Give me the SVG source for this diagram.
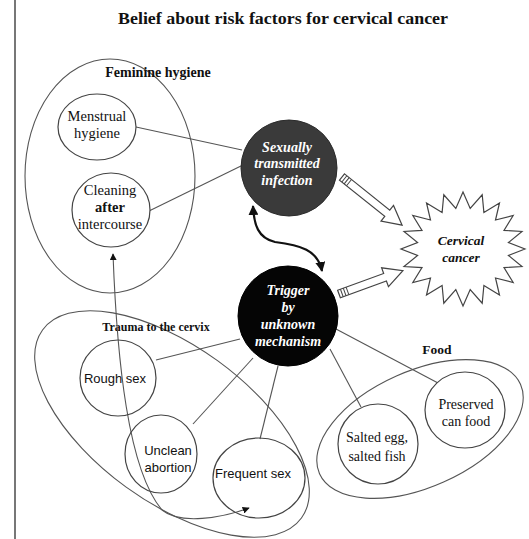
<svg xmlns="http://www.w3.org/2000/svg" width="529" height="539" viewBox="0 0 529 539">
<defs>
<style>
.bg{fill:#ffffff}
.grp{fill:none;stroke:#555;stroke-width:1.1}
.nd{fill:#ffffff;stroke:#444;stroke-width:1.2}
.ln{stroke:#555;stroke-width:1.1;fill:none}
.dark{fill:#3a3a3a;stroke:#2a2a2a;stroke-width:1}
.blk{fill:#050505;stroke:#000;stroke-width:1}
.ser{font-family:"Liberation Serif","Times New Roman",serif;fill:#111;text-anchor:middle}
.sans{font-family:"Liberation Sans",Arial,sans-serif;fill:#111;text-anchor:middle}
.hd{font-family:"Liberation Serif","Times New Roman",serif;font-weight:bold;fill:#111;text-anchor:middle}
.wi{font-family:"Liberation Serif","Times New Roman",serif;font-weight:bold;font-style:italic;fill:#ffffff;text-anchor:middle;font-size:14px}
.hollow{fill:#ffffff;stroke:#444;stroke-width:1.2}
</style>
<marker id="ah" viewBox="0 0 10 10" refX="9" refY="5" markerWidth="7" markerHeight="7" orient="auto-start-reverse" markerUnits="userSpaceOnUse">
<path d="M0,0 L10,5 L0,10 z" fill="#111"/>
</marker>
<marker id="ahb" viewBox="0 0 10 10" refX="9" refY="5" markerWidth="10" markerHeight="10" orient="auto-start-reverse" markerUnits="userSpaceOnUse">
<path d="M0,0 L10,5 L0,10 z" fill="#111"/>
</marker>
</defs>
<rect class="bg" x="0" y="0" width="529" height="539"/>
<line x1="15" y1="0" x2="15" y2="539" stroke="#777" stroke-width="2"/>
<text class="hd" x="283" y="24" font-size="17" textLength="330" lengthAdjust="spacingAndGlyphs">Belief about risk factors for cervical cancer</text>

<g id="group-feminine-hygiene">
<ellipse class="grp" cx="110" cy="176" rx="85" ry="117"/>
<text class="hd" x="158" y="77" font-size="14">Feminine hygiene</text>
</g>
<g id="group-trauma">
<ellipse class="grp" cx="172" cy="424" rx="160" ry="78" transform="rotate(36 172 424)"/>
<text class="hd" x="156" y="331" font-size="12">Trauma to the cervix</text>
</g>
<g id="group-food">
<ellipse class="grp" cx="420" cy="429" rx="110" ry="58" transform="rotate(-24 420 429)"/>
<text class="hd" x="437" y="354" font-size="13.5">Food</text>
</g>

<g id="connectors">
<line class="ln" x1="136" y1="127" x2="242" y2="150"/>
<line class="ln" x1="149" y1="211" x2="243" y2="165"/>
<line class="ln" x1="156" y1="360" x2="240" y2="339"/>
<line class="ln" x1="193" y1="424" x2="253" y2="358"/>
<line class="ln" x1="260" y1="439" x2="278" y2="366"/>
<line class="ln" x1="330" y1="349" x2="361" y2="407"/>
<line class="ln" x1="336" y1="329" x2="438" y2="383"/>
<path d="M253,206 C254,225 258,238 275,242 C300,245 318,250 322,271" fill="none" stroke="#111" stroke-width="2.2" marker-start="url(#ahb)" marker-end="url(#ahb)"/>
<path d="M113,254 C117,360 128,470 162,510 C180,525 222,518 249,508" class="ln" marker-start="url(#ah)" marker-end="url(#ah)"/>
<g transform="translate(342 177) rotate(38.7)">
<path class="hollow" d="M0,-4 L58,-4 L58,-10 L77,0 L58,10 L58,4 L0,4 Z"/>
<path d="M3,-4 V4 M6,-4 V4 M9,-4 V4" stroke="#444" stroke-width="1"/>
</g>
<g transform="translate(339 294) rotate(-20)">
<path class="hollow" d="M0,-4 L49,-4 L49,-10 L68,0 L49,10 L49,4 L0,4 Z"/>
<path d="M3,-4 V4 M6,-4 V4 M9,-4 V4" stroke="#444" stroke-width="1"/>
</g>
</g>

<g id="node-menstrual-hygiene">
<ellipse class="nd" cx="97" cy="127" rx="39" ry="33"/>
<text class="ser" x="97" y="121" font-size="14.5">Menstrual</text>
<text class="ser" x="97" y="138" font-size="14.5">hygiene</text>
</g>
<g id="node-cleaning">
<ellipse class="nd" cx="111" cy="210" rx="39" ry="37"/>
<text class="ser" x="110" y="195" font-size="14.5">Cleaning</text>
<text class="ser" x="110" y="212" font-size="14.5" font-weight="bold">after</text>
<text class="ser" x="110" y="229" font-size="14.5">intercourse</text>
</g>
<g id="node-sti">
<circle class="dark" cx="289" cy="168" r="48"/>
<text class="wi" x="287" y="152">Sexually</text>
<text class="wi" x="287" y="168">transmitted</text>
<text class="wi" x="287" y="185">infection</text>
</g>
<g id="node-trigger">
<circle class="blk" cx="288" cy="316" r="50"/>
<text class="wi" x="288" y="295">Trigger</text>
<text class="wi" x="288" y="312">by</text>
<text class="wi" x="288" y="329">unknown</text>
<text class="wi" x="288" y="346">mechanism</text>
</g>
<g id="node-cervical-cancer">
<polygon fill="#ffffff" stroke="#444" stroke-width="1.2" points="525,249 508.4,255.4 522,266.6 504,267.6 513.2,282.5 495.5,278 499.5,295.1 483.9,285.5 482.2,303.2 470.2,289.5 463,306 455.8,289.5 443.8,303.2 442.1,285.5 426.5,295.1 430.5,278 412.8,282.5 422,267.6 404,266.6 417.6,255.4 401,249 417.6,242.6 404,231.4 422,230.4 412.8,215.5 430.5,220 426.5,202.9 442.1,212.5 443.8,194.8 455.8,208.5 463,192 470.2,208.5 482.2,194.8 483.9,212.5 499.5,202.9 495.5,220 513.2,215.5 504,230.4 522,231.4 508.4,242.6"/>
<text class="ser" x="461" y="245" font-size="13.5" font-weight="bold" font-style="italic">Cervical</text>
<text class="ser" x="461" y="262" font-size="13.5" font-weight="bold" font-style="italic">cancer</text>
</g>
<g id="node-rough-sex">
<circle class="nd" cx="118" cy="378" r="38" fill-opacity="0"/>
<text class="sans" x="115" y="383" font-size="13">Rough sex</text>
</g>
<g id="node-unclean-abortion">
<ellipse class="nd" cx="161" cy="454" rx="36" ry="39" fill-opacity="0"/>
<text class="sans" x="168" y="455" font-size="13">Unclean</text>
<text class="sans" x="168" y="472" font-size="13">abortion</text>
</g>
<g id="node-frequent-sex">
<ellipse class="nd" cx="259" cy="478" rx="46" ry="40" fill-opacity="0"/>
<text class="sans" x="253" y="478" font-size="13">Frequent sex</text>
</g>
<g id="node-salted">
<circle class="nd" cx="378" cy="444" r="40"/>
<text class="ser" x="377" y="442" font-size="14">Salted egg,</text>
<text class="ser" x="377" y="461" font-size="14">salted fish</text>
</g>
<g id="node-preserved">
<ellipse class="nd" cx="465" cy="410" rx="40" ry="38"/>
<text class="ser" x="466" y="409" font-size="14">Preserved</text>
<text class="ser" x="466" y="426" font-size="14">can food</text>
</g>
</svg>
